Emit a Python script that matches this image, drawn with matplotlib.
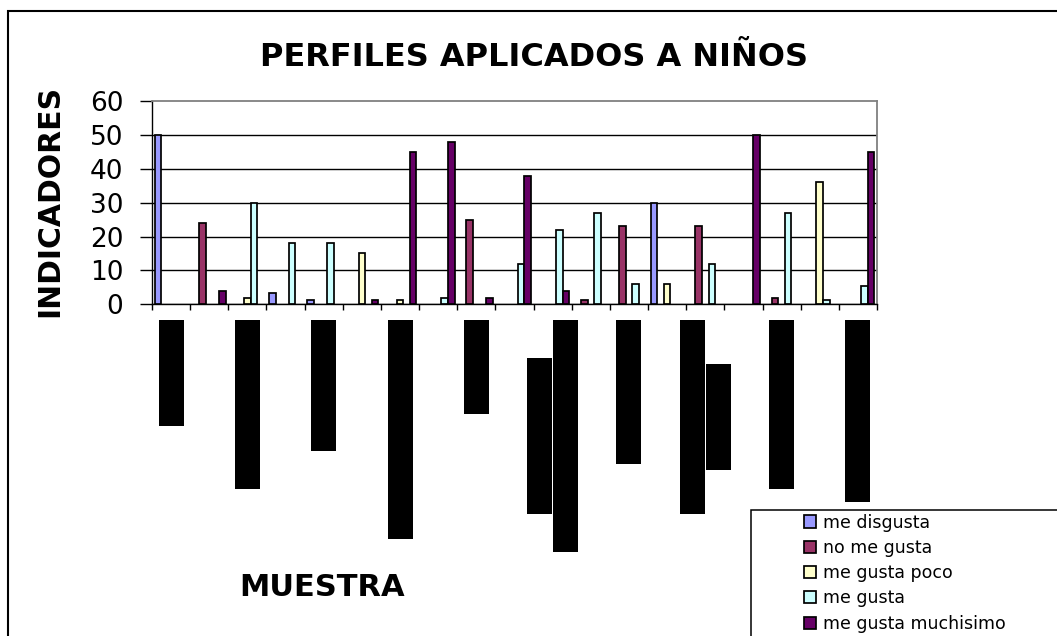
import matplotlib
matplotlib.use("Agg")
import matplotlib.pyplot as plt
import numpy as np
from matplotlib.patches import Rectangle

# data: 19 samples, 5 answer levels
series_names = ["me disgusta", "no me gusta", "me gusta poco", "me gusta", "me gusta muchisimo"]
me_disgusta = [50, 0, 0, 3.4, 1.4, 0, 0, 0, 0, 0, 0, 0, 0, 30, 0, 0, 0, 0, 0]
no_me_gusta = [0, 24, 0, 0, 0, 0, 0, 0, 25, 0, 0, 1.4, 23, 0, 23, 0, 2, 0, 0]
me_gusta_poco = [0, 0, 2, 0, 0, 15, 1.4, 0, 0, 0, 0, 0, 0, 6, 0, 0, 0, 36, 0]
me_gusta = [0, 0, 30, 18, 18, 0, 0, 2, 0, 12, 22, 27, 6, 0, 12, 0, 27, 1.4, 5.4]
me_gusta_muchisimo = [0, 4, 0, 0, 0, 1.4, 45, 48, 2, 38, 4, 0, 0, 0, 0, 50, 0, 0, 45]
colors = ["#9999FF", "#993366", "#FFFFCC", "#CCFFFF", "#660066"]

# category labels are blacked out in the source; only every other one is shown
cat_labels = ["xxxxxxxx", "", "xxxxxxxxxxxxx", "", "xxxxxxxxxx", "",
              "xxxxxxxxxxxxxxxxx", "", "xxxxxxx", "", "xxxxxxxxxxxx\nxxxxxxxxxxxxxxxxxx", "",
              "xxxxxxxxxxx", "", "xxxxxxxxxxxxxxx\nxxxxxxxx", "", "xxxxxxxxxxxxx", "",
              "xxxxxxxxxxxxxx"]
yticks = [0, 10, 20, 30, 40, 50, 60]

values = [me_disgusta, no_me_gusta, me_gusta_poco, me_gusta, me_gusta_muchisimo]
n = len(me_disgusta)
x = np.arange(n) + 0.5
w = 0.172

fig = plt.figure(figsize=(10.57, 6.36), dpi=100)
ax = fig.add_axes([152/1057, 1-304.3/636, (877-152)/1057, (304.3-101)/636])

for k in range(5):
    h = np.array(values[k], dtype=float)
    h[h == 0] = np.nan  # Excel draws nothing for empty values
    ax.bar(x + (k - 2) * w, h, w, color=colors[k], edgecolor="black",
           linewidth=1.25, label=series_names[k], zorder=3)

ax.set_xlim(0, n)
ax.set_ylim(0, 60)
ax.set_yticks(yticks)
ax.set_yticklabels([str(v) for v in yticks], fontsize=19)
ax.set_xticks(np.arange(n + 1))
ax.set_xticklabels([])
ax.tick_params(axis="y", length=8.6, width=1, pad=12, direction="out")
ax.tick_params(axis="x", length=4.5, width=1, direction="out")
ax.yaxis.grid(True, color="black", linewidth=1.0)
ax.set_axisbelow(True)
ax.get_ygridlines()[-1].set_visible(False)
ax.spines["top"].set_color("#808080")
ax.spines["right"].set_color("#808080")
ax.spines["top"].set_linewidth(1.3)
ax.spines["right"].set_linewidth(1.3)
ax.spines["left"].set_linewidth(1.0)
ax.spines["bottom"].set_linewidth(1.0)

# blacked-out category labels
fs_lab = 15
gap_pt = 13.5
line_pt = 19
for i, lab in enumerate(cat_labels):
    if not lab:
        continue
    lines = lab.split("\n")
    lmax = max(len(l) for l in lines) * 0.602 * fs_lab
    for j, line in enumerate(lines):
        dx = (j - (len(lines) - 1) / 2) * line_pt
        ax.annotate(line, xy=(x[i], 0), xycoords=ax.get_xaxis_transform(),
                    xytext=(dx, -(gap_pt + lmax / 2)), textcoords="offset points",
                    rotation=90, ha="center", va="center", family="DejaVu Sans Mono",
                    fontsize=fs_lab, color="black", annotation_clip=False,
                    bbox=dict(boxstyle="square,pad=0.12", fc="black", ec="none"))

fig.text(533.5/1057, 1-57/636, "PERFILES APLICADOS A NIÑOS", fontsize=23,
         fontweight="bold", ha="center", va="center")
fig.text(50/1057, 1-201/636, "INDICADORES", fontsize=21.5, fontweight="bold",
         rotation=90, ha="center", va="center")
fig.text(322.5/1057, 1-587/636, "MUESTRA", fontsize=22, fontweight="bold",
         ha="center", va="center")

# outer chart border, running off the right and bottom edges
fig.patches.append(Rectangle((8/1057, -0.1), 1.2, 1.1 - 10.5/636, transform=fig.transFigure,
                             fill=False, edgecolor="black", linewidth=1.5))
# legend frame, also cut off by the edges
fig.patches.append(Rectangle((751/1057, -0.1), 1.0, 0.1 + 1 - 510/636, transform=fig.transFigure,
                             facecolor="white", edgecolor="black", linewidth=1.1, zorder=5))

handles, labels = ax.get_legend_handles_labels()
leg = fig.legend(handles, labels, loc="upper left", bbox_to_anchor=(804/1057, 1-513.5/636),
                 frameon=False, fontsize=12.5, handlelength=0.7, handleheight=0.7,
                 handletextpad=0.4, labelspacing=0.42, borderpad=0, borderaxespad=0)
leg.set_zorder(6)

fig.savefig("out.png", dpi=100)
